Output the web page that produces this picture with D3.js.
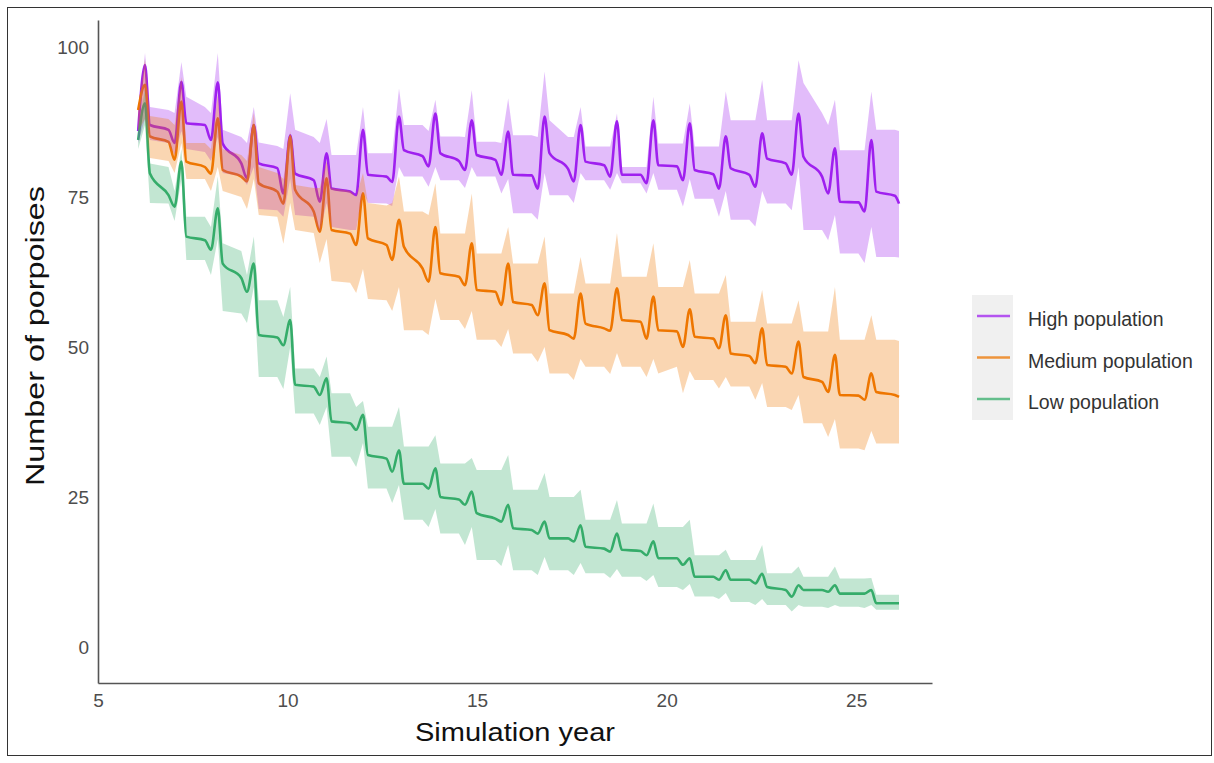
<!DOCTYPE html>
<html>
<head>
<meta charset="utf-8">
<script src="https://cdn.jsdelivr.net/npm/d3@7"></script>
<style>
  body { margin: 0; background: #fff; }
  svg { display: block; font-family: "Liberation Sans", Arial, sans-serif; }
</style>
</head>
<body>
<div id="chart"></div>
<script>
// sample times (simulation year): dip, peak, post-peak, late plateau for each yearly pulse, plus the end
var years = [
  6.06, 6.24, 6.37, 6.86,   7.02, 7.20, 7.33, 7.82,   7.98, 8.16, 8.29, 8.78,
  8.93, 9.11, 9.24, 9.73,   9.89, 10.07, 10.20, 10.69, 10.85, 11.03, 11.16, 11.65,
  11.81, 11.99, 12.12, 12.61, 12.76, 12.94, 13.07, 13.56, 13.72, 13.90, 14.03, 14.52,
  14.68, 14.86, 14.99, 15.48, 15.64, 15.82, 15.95, 16.44, 16.60, 16.78, 16.91, 17.40,
  17.55, 17.73, 17.86, 18.35, 18.51, 18.69, 18.82, 19.31, 19.47, 19.65, 19.78, 20.27,
  20.43, 20.61, 20.74, 21.23, 21.38, 21.56, 21.69, 22.18, 22.34, 22.52, 22.65, 23.14,
  23.30, 23.48, 23.61, 24.10, 24.26, 24.44, 24.57, 25.06, 25.22, 25.40, 25.53, 26.02,
  26.13
];

var highMean = [
  86, 97, 87, 86.2,  84, 94.2, 87.3, 87,  84.5, 94.1, 83.9, 80.6,
  78.1, 87, 80.6, 79.8,  75.6, 85.3, 78.9, 77.8,  74.2, 82.3, 76.4, 75.9,
  75.3, 86.2, 78.7, 78.4,  77.5, 88.4, 82.8, 81.8,  80.1, 88.9, 82.3, 81,
  79.5, 87.8, 82, 81.2,  78.7, 85.9, 78.7, 78.6,  76.4, 88.4, 82.3, 79.7,
  77.6, 87, 80.9, 80.3,  78.4, 87.6, 78.7, 78.7,  77.3, 87.8, 80.3, 80.1,
  77.8, 87.3, 79.5, 78.8,  76.4, 85.1, 79.8, 78.7,  76.7, 85.6, 81.4, 80.6,
  78.7, 88.9, 81.7, 78.4,  75.6, 83.1, 74.2, 74.1,  72.6, 84.5, 75.9, 75.2,
  73.9
];
var highLo = [
  84, 88, 84.5, 84,  82, 86, 83, 82.5,  81, 85, 79, 78.4,
  77, 80, 73, 72.8,  71.7, 78, 72, 71.7,  69, 74, 70, 69.5,
  69.5, 76, 74, 73.9,  73.5, 80, 78.4, 78.4,  76.7, 80, 77.8, 77.8,
  76.5, 80, 78.4, 78.4,  75.6, 78, 72.3, 72.3,  71.2, 79, 75.3, 75.3,
  74, 79, 77.8, 77.8,  76.2, 79, 77.3, 77.3,  75.6, 79, 76.2, 76.2,
  73.4, 78, 74.7, 74.7,  71.7, 76, 71.2, 71.2,  70.1, 76, 73.9, 73.9,
  72.8, 80, 69.5, 69.5,  67.8, 72, 65.6, 65.6,  64, 70, 65, 65,
  64.9
];
var highHi = [
  88, 99, 90, 89.5,  89, 97.5, 91.7, 90,  89, 99, 86.2, 85,
  84, 90, 84.1, 83.5,  83, 92.3, 86.2, 85,  84, 88, 82, 82,
  82, 90, 82.3, 82.3,  82.3, 93.1, 87, 87,  86, 91.2, 85.1, 85.1,
  85, 92.8, 84.2, 84.2,  84, 91.4, 85.3, 85.3,  85, 95.9, 87.8, 85,
  85, 90, 83.4, 83.4,  83.4, 88.9, 80, 80,  80, 91.7, 83.9, 83.9,
  83.9, 90.6, 83.4, 83.4,  83.4, 92.6, 87.8, 87.8,  87.8, 94.5, 87.8, 87.8,
  87.8, 97.8, 94, 89,  87, 91.2, 82.8, 82.8,  82.8, 92.6, 86.2, 86.2,
  86
];

var mediumMean = [
  89.5, 93.7, 85.1, 84.2,  81.2, 90.9, 80.9, 80,  78.9, 88.1, 79.5, 78.4,
  77.6, 87, 77.3, 75.9,  73.9, 85.1, 76.2, 72.6,  69.2, 78.1, 69.5, 68.9,
  67, 75.6, 68.1, 67,  64.5, 71.2, 66.7, 63.1,  60.9, 70, 62.3, 61.7,
  60.3, 67.3, 59.5, 59.2,  57, 63.9, 57.5, 57,  55.3, 60.6, 52.8, 52,
  51.4, 58.9, 53.9, 53.1,  52.7, 59.8, 54.5, 54.2,  51.4, 58.4, 52.8, 52.6,
  50, 56.3, 51.7, 51.4,  49.8, 55.3, 48.9, 48.5,  47.3, 53.1, 47, 46.7,
  45.6, 50.9, 45, 44.2,  42.5, 48.7, 42, 41.9,  41.2, 45.6, 42.5, 42,
  41.7
];
var mediumLo = [
  86, 88, 81.5, 81,  79, 84, 78, 78,  76, 80, 76, 75,
  73, 78, 72, 71.7,  67.2, 74, 69.5, 69,  64, 68, 61, 60.7,
  59, 63, 58, 57.8,  56, 60, 52.8, 52.8,  52, 58, 54.5, 54.5,
  53, 56, 51.2, 51.2,  50, 53, 48.9, 48.9,  47.5, 50, 45.6, 45.6,
  44.5, 48, 46.7, 46.7,  45.5, 49, 46.7, 46.7,  45, 48, 45.6, 46.7,
  42.3, 46, 44.5, 44.5,  43.1, 45, 43.4, 43.4,  41.2, 44, 40, 40,
  39.5, 42, 37.3, 37.3,  35, 38, 33.1, 33.1,  32.8, 36, 33.9, 33.9,
  33.9
];
var mediumHi = [
  90, 98, 88.5, 88,  87, 95, 84, 84,  83, 92, 83, 82,
  81, 89, 80, 79,  78, 86, 77, 76.5,  76.5, 81, 76.5, 76,
  75, 79, 74, 73.6,  74, 78.4, 72.6, 72.6,  72, 77.3, 68.9, 68.9,
  68.9, 75.6, 65.6, 65.6,  65.6, 70, 63.9, 63.9,  63.9, 68.4, 58.9, 58.9,
  58.9, 65, 60.6, 60.6,  60.6, 69, 61.7, 61.7,  61.7, 67.3, 60, 60,
  60, 64.5, 58.9, 58.9,  58.9, 62, 54.2, 54.2,  54.2, 59.5, 53.9, 53.9,
  53.9, 57.8, 52.6, 52.6,  52.6, 60, 51.2, 51.2,  51.2, 55.3, 51.2, 51.2,
  51
];

var lowMean = [
  84.5, 90.6, 78.9, 75.3,  73.4, 80.9, 68.4, 67.8,  66.2, 73.1, 63.9, 61.5,
  59.2, 63.9, 52, 51.6,  50.3, 54.5, 43.7, 43.4,  42, 44.8, 37.6, 37.3,
  36.2, 38.7, 32, 31.4,  29.2, 32.8, 27.2, 27.2,  26.4, 29.8, 25, 24.6,
  23.7, 25.9, 22.3, 21.4,  20.9, 23.7, 19.8, 19.5,  18.9, 20.9, 18.1, 18.1,
  17.6, 20.3, 16.7, 16.4,  15.9, 18.9, 16.2, 16,  15.3, 17.6, 14.8, 14.8,
  13.7, 14.8, 11.7, 11.7,  11.2, 12.8, 11.2, 11.2,  10.6, 12.2, 10, 9.5,
  8.4, 10.3, 9.5, 9.5,  9.2, 10.3, 8.9, 8.9,  8.9, 9.5, 7.3, 7.3,
  7.3
];
var lowLo = [
  83, 87, 74, 73.9,  71, 78, 64.5, 64.5,  62, 68, 56, 55.6,
  54, 60, 45, 45,  43, 50, 38.9, 38.9,  37, 40, 31.7, 31.7,
  30, 34, 26.4, 26.4,  24, 27, 21.2, 21.2,  20, 23, 18.9, 18.9,
  17, 20, 14.5, 14.5,  13.5, 17, 12.8, 12.8,  12, 15, 12.8, 12.8,
  12, 14, 12.3, 12.3,  11.5, 13, 11.7, 11.7,  11, 12, 10, 10,
  9.5, 10.5, 8.4, 8.4,  8, 9, 7.5, 7.5,  7, 8, 7, 7,
  5.9, 7, 6.7, 6.7,  6.5, 7, 6.7, 6.7,  6.5, 7, 6.2, 6.2,
  6.2
];
var lowHi = [
  86, 93, 80.6, 80,  76, 83, 71.7, 71.7,  70, 78.4, 67.3, 66,
  62, 68.4, 57.8, 57.8,  55, 60, 46.4, 46.4,  45, 48.4, 42.3, 42.3,
  40, 41, 36.7, 36.7,  36.7, 40, 33.4, 33.4,  33.4, 35.3, 30.6, 30.6,
  30.6, 31.5, 29.5, 29.5,  29.5, 32, 26.2, 26.2,  26.2, 29, 25, 25,
  25, 26.2, 21.2, 21.2,  21.2, 24.5, 20.6, 20.6,  20.6, 23.9, 20, 20,
  20, 21.2, 15.3, 15.3,  15.3, 16.2, 14.5, 14.5,  14.5, 17, 12.3, 12.3,
  12.3, 13.4, 11.7, 11.7,  11.7, 13.4, 11.4, 11.4,  11.4, 11.5, 8.7, 8.7,
  8.7
];

var seriesNames = ["High population", "Medium population", "Low population"];
var seriesColors = ["#a020f0", "#ee7600", "#36ad6b"];
var xTicks = [5, 10, 15, 20, 25];
var yTicks = [0, 25, 50, 75, 100];

var width = 1214, height = 763;

var series = [
  { name: seriesNames[0], color: seriesColors[0], mean: highMean, lo: highLo, hi: highHi },
  { name: seriesNames[1], color: seriesColors[1], mean: mediumMean, lo: mediumLo, hi: mediumHi },
  { name: seriesNames[2], color: seriesColors[2], mean: lowMean, lo: lowLo, hi: lowHi }
];

var svg = d3.select("#chart")
            .append("svg")
            .attr("width", width)
            .attr("height", height);

svg.append("rect")
   .attr("width", width).attr("height", height)
   .attr("fill", "#fff");

// thin frame round the picture
svg.append("rect")
   .attr("x", 7.5).attr("y", 7.5)
   .attr("width", 1204).attr("height", 748)
   .attr("fill", "none")
   .attr("stroke", "#333")
   .attr("stroke-width", 1);

var x = d3.scaleLinear().domain([5, 27]).range([98, 932]);
var y = d3.scaleLinear().domain([-6, 104.5]).range([683, 20]);

var line = function(s) {
    return d3.line()
             .curve(d3.curveMonotoneX)
             .x(function(d, i) { return x(years[i]); })
             .y(function(d) { return y(d); })(s.mean);
};
var area = function(s) {
    return d3.area()
             .x(function(d, i) { return x(years[i]); })
             .y0(function(d, i) { return y(s.lo[i]); })
             .y1(function(d, i) { return y(s.hi[i]); })(s.mean);
};

// lines first, translucent ribbons over them
svg.selectAll("path.mean")
   .data(series)
   .enter()
   .append("path")
   .attr("class", "mean")
   .attr("d", line)
   .attr("fill", "none")
   .attr("stroke", function(d) { return d.color; })
   .attr("stroke-width", 2.6)
   .attr("stroke-linejoin", "round");

svg.selectAll("path.band")
   .data(series)
   .enter()
   .append("path")
   .attr("class", "band")
   .attr("d", area)
   .attr("fill", function(d) { return d.color; })
   .attr("fill-opacity", 0.3);

// axes
var xAxis = svg.append("g")
               .attr("transform", "translate(0,683)")
               .call(d3.axisBottom(x).tickValues(xTicks).tickSize(0).tickPadding(11));
var yAxis = svg.append("g")
               .attr("transform", "translate(98,0)")
               .call(d3.axisLeft(y).tickValues(yTicks).tickSize(0).tickPadding(9));

[xAxis, yAxis].forEach(function(g) {
    g.select(".domain").attr("stroke", "#555").attr("stroke-width", 1.6);
    g.selectAll("text")
     .attr("font-family", "'Liberation Sans', Arial, sans-serif")
     .attr("font-size", 19)
     .attr("fill", "#4d4d4d");
});

svg.append("text")
   .text("Simulation year")
   .attr("x", 515).attr("y", 741)
   .attr("text-anchor", "middle")
   .attr("font-size", 25)
   .attr("textLength", 200)
   .attr("lengthAdjust", "spacingAndGlyphs")
   .attr("fill", "#111");

svg.append("text")
   .text("Number of porpoises")
   .attr("transform", "translate(44,336) rotate(-90)")
   .attr("text-anchor", "middle")
   .attr("font-size", 25)
   .attr("textLength", 300)
   .attr("lengthAdjust", "spacingAndGlyphs")
   .attr("fill", "#111");

// legend
var legend = svg.append("g");
legend.append("rect")
      .attr("x", 972).attr("y", 295)
      .attr("width", 41).attr("height", 125)
      .attr("fill", "#f0f0f0");

var keys = legend.selectAll("g.key")
                 .data(series)
                 .enter()
                 .append("g")
                 .attr("class", "key")
                 .attr("transform", function(d, i) { return "translate(0," + (316 + i * 41.5) + ")"; });

keys.append("line")
    .attr("x1", 977).attr("x2", 1010)
    .attr("y1", 0).attr("y2", 0)
    .attr("stroke", function(d) { return d.color; })
    .attr("stroke-opacity", 0.75)
    .attr("stroke-width", 2.6);

keys.append("text")
    .text(function(d) { return d.name; })
    .attr("x", 1028).attr("y", 10)
    .attr("font-size", 19.5)
    .attr("fill", "#333");
</script>
</body>
</html>
